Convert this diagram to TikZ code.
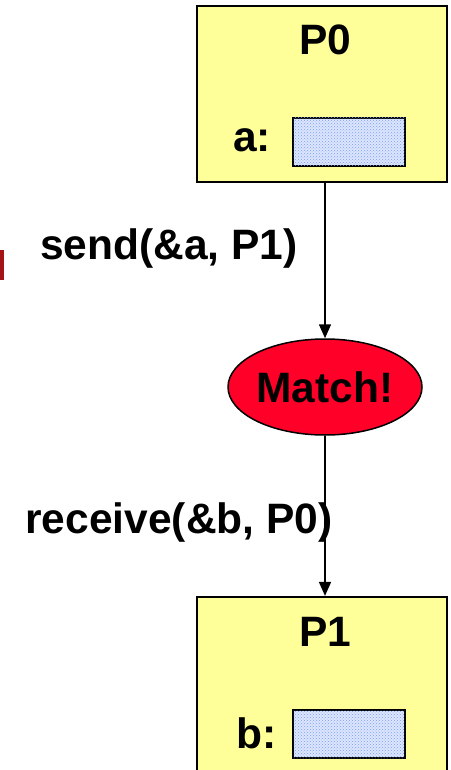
\documentclass[tikz,border=0pt]{standalone}
\usepackage{fontspec}
\setmainfont{Liberation Sans}
\usepackage{tikz}
\usetikzlibrary{shapes,arrows.meta,patterns,positioning}
\definecolor{procyellow}{RGB}{255,255,153}
\definecolor{bufblue}{RGB}{222,230,253}
\definecolor{dotblue}{RGB}{120,160,245}
\definecolor{matchred}{RGB}{255,0,40}
\definecolor{darkred}{RGB}{165,20,20}

\begin{document}
\begin{tikzpicture}[x=1pt,y=-1pt]
          \useasboundingbox (0,0) rectangle (450,770);
          \tikzstyle{every node}=[font=\fontsize{42.5}{50}\selectfont\bfseries]
          \tikzstyle{proc}=[draw, line width=2.2pt, fill=procyellow, rectangle, inner sep=0pt]
          \tikzstyle{buf}=[draw, line width=1.8pt, fill=bufblue, rectangle, minimum width=112pt, minimum height=48pt,
                          postaction={pattern=crosshatch dots, pattern color=dotblue}]
          \tikzstyle{msg}=[->, >={Triangle[width=12pt,length=14pt]}, line width=1.5pt]

          % sending process
          \node[proc, minimum width=250pt, minimum height=176pt] (p0) at (322,94) {};
          \node (p0name) at (325,40) {P0};
          \node (alabel) at (252,140) {a:};
          \node[buf] (abuf) at (349,142) {};

          % match in the middle
          \node[draw, ellipse, line width=1.5pt, fill=matchred, minimum width=194pt, minimum height=96pt, inner sep=0pt] (match) at (325,387) {Match!};

          % receiving process
          \node[proc, minimum width=250pt, minimum height=180pt] (p1) at (322,687) {};
          \node (p1name) at (325,632) {P1};
          \node (blabel) at (257,733) {b:};
          \node[buf] (bbuf) at (349,734) {};

          % calls
          \node (sendlbl) at (169,249) {send(\&a, P1)};
          \node (recvlbl) at (179,523) {receive(\&b, P0)};

          \draw[msg] (match.north |- p0.south) -- (match.north);
          \draw[msg] (match.south) -- (match.south |- p1.north);

          \fill[darkred] (0,250) rectangle (4,280);
\end{tikzpicture}
\end{document}
